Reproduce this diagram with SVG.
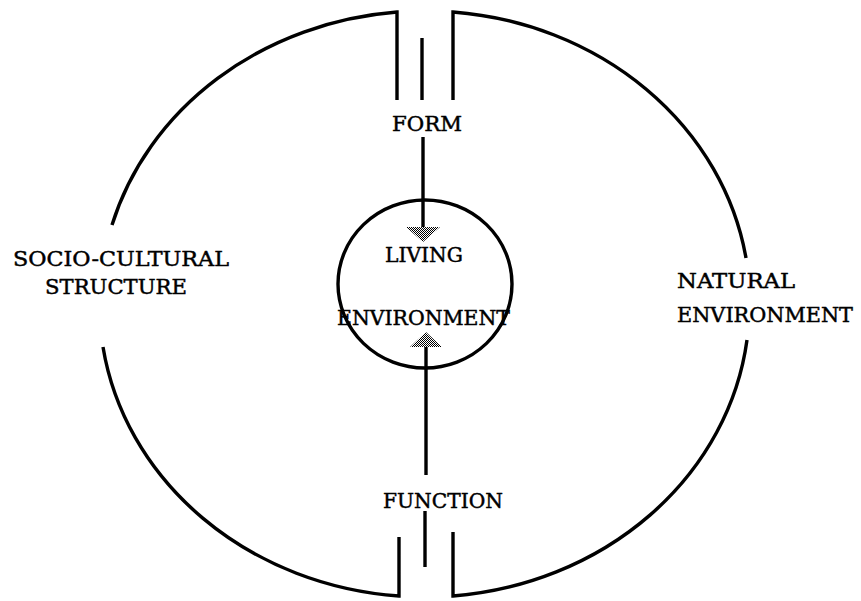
<svg xmlns="http://www.w3.org/2000/svg" width="861" height="601" viewBox="0 0 861 601">
<style>
.ln{fill:none;stroke:#000;stroke-width:3.4;stroke-linejoin:miter;stroke-linecap:butt}
.tx{font-family:"DejaVu Serif","Liberation Serif",serif;font-size:20px;fill:#000;stroke:#000;stroke-width:0.45}
.ah{fill:url(#dith)}
</style>
<defs>
<pattern id="dith" width="2" height="2" patternUnits="userSpaceOnUse">
<rect width="2" height="2" fill="#fff"/>
<rect width="1" height="1" fill="#000"/>
<rect x="1" y="1" width="1" height="1" fill="#000"/>
</pattern>
</defs>
<rect width="861" height="601" fill="#fff"/>
<g id="socio-cultural">
<path class="ln" d="M397 100 L397 12 A325 293 0 0 0 112 225"/>
<path class="ln" d="M103 347 A325 293 0 0 0 399 596 L399 537"/>
<text class="tx" x="13" y="266" textLength="216" lengthAdjust="spacingAndGlyphs">SOCIO-CULTURAL</text>
<text class="tx" x="45" y="294" textLength="142" lengthAdjust="spacingAndGlyphs">STRUCTURE</text>
</g>
<g id="natural-environment">
<path class="ln" d="M453 100 L453 12 A325 293 0 0 1 746 258"/>
<path class="ln" d="M747 340 A325 293 0 0 1 453 596 L453 532"/>
<text class="tx" x="677" y="288" textLength="118" lengthAdjust="spacingAndGlyphs">NATURAL</text>
<text class="tx" x="677" y="322" textLength="176" lengthAdjust="spacingAndGlyphs">ENVIRONMENT</text>
</g>
<g id="living-environment">
<ellipse class="ln" cx="425" cy="284" rx="87" ry="84"/>
<text class="tx" x="385" y="262" textLength="78" lengthAdjust="spacingAndGlyphs">LIVING</text>
<text class="tx" x="337" y="325" textLength="173" lengthAdjust="spacingAndGlyphs">ENVIRONMENT</text>
</g>
<g id="form">
<text class="tx" x="392" y="131" textLength="70" lengthAdjust="spacingAndGlyphs">FORM</text>
</g>
<g id="function">
<text class="tx" x="383" y="508" textLength="120" lengthAdjust="spacingAndGlyphs">FUNCTION</text>
</g>
<g id="connectors">
<line class="ln" x1="422" y1="38" x2="422" y2="100"/>
<line class="ln" x1="423" y1="137" x2="423" y2="228"/>
<polygon class="ah" points="406,227 440,227 423,242"/>
<line class="ln" x1="426" y1="346" x2="426" y2="475"/>
<polygon class="ah" points="426,332 410,347 442,347"/>
<line class="ln" x1="425" y1="511" x2="425" y2="567"/>
</g>
</svg>
